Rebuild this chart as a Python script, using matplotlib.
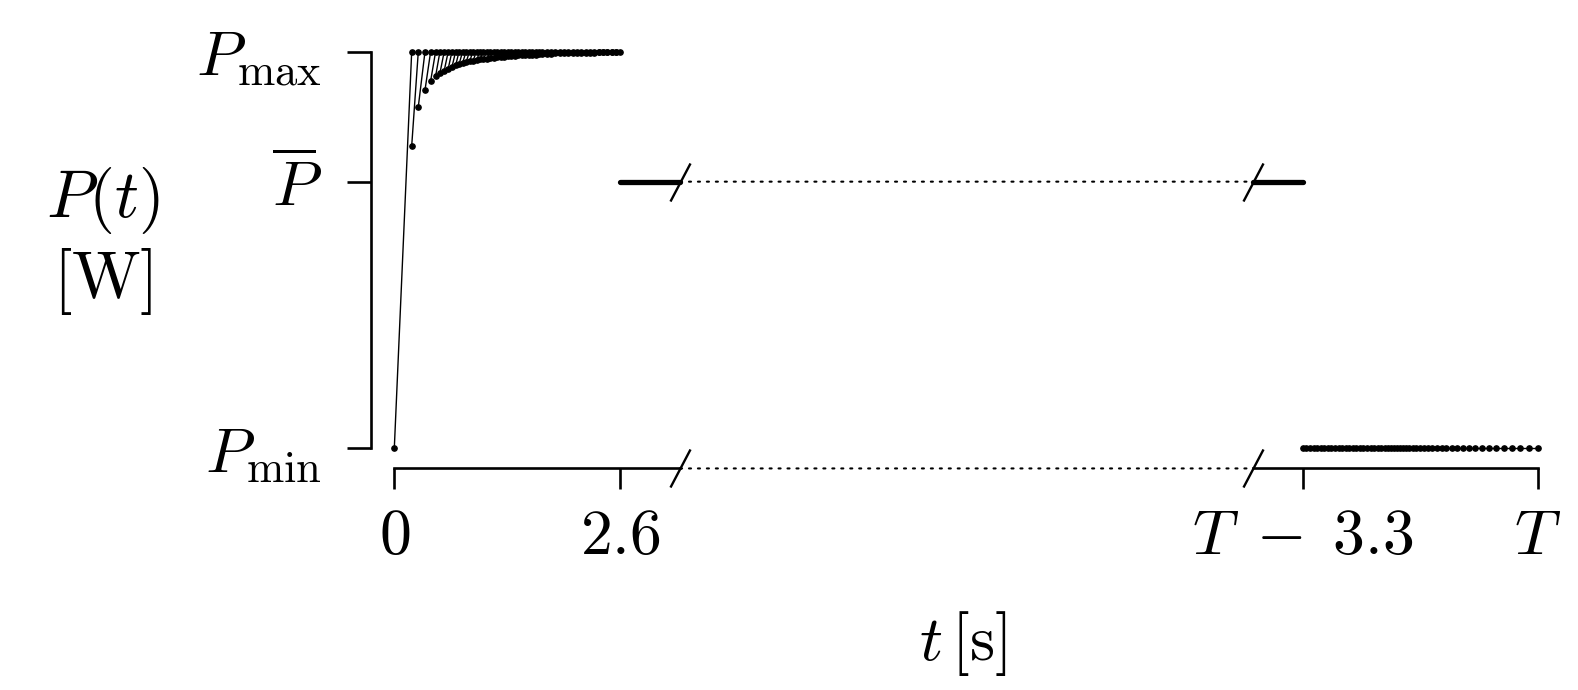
import numpy as np
import matplotlib
matplotlib.use("Agg")
import matplotlib.pyplot as plt
from matplotlib.patches import ConnectionPatch
from matplotlib.transforms import offset_copy

plt.rcParams['mathtext.fontset'] = 'cm'
plt.rcParams['font.family'] = 'serif'

# normalised power levels
P_MIN = 0.0
P_BAR = 0.672
P_MAX = 1.0

# start of the horizon: sample times [s] and the level each step starts from
t_rise = [0.0, 0.200, 0.276, 0.353, 0.418, 0.475, 0.525, 0.574, 0.620, 0.663,
          0.705, 0.745, 0.785, 0.825, 0.865, 0.905, 0.945, 0.985, 1.025, 1.065,
          1.105, 1.145, 1.185, 1.225, 1.265, 1.305, 1.345, 1.385, 1.425, 1.465,
          1.505, 1.545, 1.585, 1.625, 1.665, 1.70, 1.75, 1.80, 1.85, 1.90,
          1.95, 2.00, 2.05, 2.10, 2.15, 2.20, 2.25, 2.30, 2.35, 2.40,
          2.45, 2.50, 2.55, 2.60]
p_rise = [0.0, 0.762, 0.861, 0.903, 0.926, 0.938, 0.946, 0.952, 0.957, 0.961,
          0.965, 0.968, 0.971, 0.973, 0.975, 0.977, 0.978, 0.980, 0.981, 0.982,
          0.983, 0.984, 0.985, 0.986, 0.987, 0.988, 0.988, 0.989, 0.990, 0.990,
          0.991, 0.991, 0.992, 0.992, 0.993, 0.993, 0.994, 0.994, 0.995, 0.995,
          0.995, 0.996, 0.996, 0.996, 0.997, 0.997, 0.997, 0.997, 0.998, 0.998,
          0.998, 0.998, 0.998, 0.998]

# end of the horizon: sample times relative to T [s], all at P_min
t_tail = [-3.30, -3.25, -3.20, -3.15, -3.10, -3.05, -3.00, -2.95, -2.90, -2.85,
          -2.80, -2.75, -2.70, -2.65, -2.60, -2.55, -2.50, -2.45, -2.40, -2.35,
          -2.30, -2.25, -2.20, -2.15, -2.10, -2.06, -2.02, -1.98, -1.94, -1.896,
          -1.852, -1.806, -1.758, -1.708, -1.655, -1.600, -1.543, -1.483, -1.420,
          -1.354, -1.285, -1.212, -1.135, -1.054, -0.969, -0.880, -0.786, -0.688,
          -0.585, -0.477, -0.365, -0.248, -0.126, 0.0]

# P_bar stretches on each side of the break
t_bar_head = [2.6, 3.284]
t_bar_tail = [-4.0, -3.3]

W, H = 1578, 690
fig = plt.figure(figsize=(W / 100, H / 100), dpi=100)
bottom = 1 - 448.3 / H
height = (448.3 - 51.5) / H
ax1 = fig.add_axes([394.3 / W, bottom, (680 - 394.3) / W, height])
ax2 = fig.add_axes([1253 / W, bottom, (1538 - 1253) / W, height])

# each step: jump from its start level up to P_max at the next sample
t = np.array(t_rise)
p = np.array(p_rise)
n = len(t) - 1
seg_x = np.column_stack([t[:-1], t[1:], np.full(n, np.nan)]).ravel()
seg_y = np.column_stack([p[:-1], np.full(n, P_MAX), np.full(n, np.nan)]).ravel()
ax1.plot(seg_x, seg_y, '-', color='k', lw=1.0, marker='o', ms=3.8, clip_on=False)
ax1.plot(t_bar_head, [P_BAR, P_BAR], color='k', lw=3.8,
         solid_capstyle='round', clip_on=False)

ax2.plot(t_tail, np.full(len(t_tail), P_MIN), '-', color='k', lw=1.0,
         marker='o', ms=3.8, clip_on=False)
ax2.plot(t_bar_tail, [P_BAR, P_BAR], color='k', lw=3.8,
         solid_capstyle='round', clip_on=False)

ax1.set_xlim(0, 3.284)
ax2.set_xlim(-4.0, 0)
for ax in (ax1, ax2):
    ax.set_ylim(P_MIN, P_MAX)
    ax.spines['top'].set_visible(False)
    ax.spines['right'].set_visible(False)
    ax.spines['bottom'].set_position(('outward', 14.5))
    ax.spines['bottom'].set_linewidth(1.9)
    ax.tick_params(axis='x', length=15, width=1.9, pad=12, labelsize=46)
ax1.spines['left'].set_position(('outward', 16.6))
ax1.spines['left'].set_linewidth(1.9)
ax2.spines['left'].set_visible(False)

ax1.set_yticks([P_MIN, P_BAR, P_MAX],
               [r'$P_{\min}$', r'$\overline{P}$', r'$P_{\max}$'])
ax1.tick_params(axis='y', length=17.5, width=1.9, pad=18, labelsize=46)
ax1.set_xticks([0, 2.6], [r'$0$', r'$2.6$'])
ax2.set_xticks([-3.3, 0], [r'$T\;-\;3.3$', r'$T$'])
ax2.set_yticks([])

# break marks
kw = dict(marker=[(-10, -19), (10, 19)], markersize=27.4, linestyle='none',
          color='k', mec='k', mew=1.7, clip_on=False)
ax1.plot([1], [P_BAR], transform=ax1.get_yaxis_transform(), **kw)
ax1.plot([1], [0], transform=offset_copy(ax1.transAxes, fig=fig, y=-14.5, units='points'), **kw)
ax2.plot([0], [P_BAR], transform=ax2.get_yaxis_transform(), **kw)
ax2.plot([0], [0], transform=offset_copy(ax2.transAxes, fig=fig, y=-14.5, units='points'), **kw)

# dotted bridges across the gap
dots = dict(linestyle=(0, (1, 3.3)), lw=1.5, color='k')
fig.add_artist(ConnectionPatch(xyA=(1, P_BAR), coordsA=ax1.get_yaxis_transform(),
                               xyB=(0, P_BAR), coordsB=ax2.get_yaxis_transform(), **dots))
fig.add_artist(ConnectionPatch(xyA=(1, 0), coordsA=offset_copy(ax1.transAxes, fig=fig, y=-14.5, units='points'),
                               xyB=(0, 0), coordsB=offset_copy(ax2.transAxes, fig=fig, y=-14.5, units='points'),
                               **dots))

fig.text(103 / W, 1 - 241 / H, r'$P(t)$' + '\n' + r'$[\mathrm{W}]$',
         ha='center', va='center', fontsize=48, multialignment='center')
fig.text(963 / W, 1 - 644 / H, r'$t\,[\mathrm{s}]$', ha='center', va='center',
         fontsize=46)

fig.savefig('out.png', dpi=100)
